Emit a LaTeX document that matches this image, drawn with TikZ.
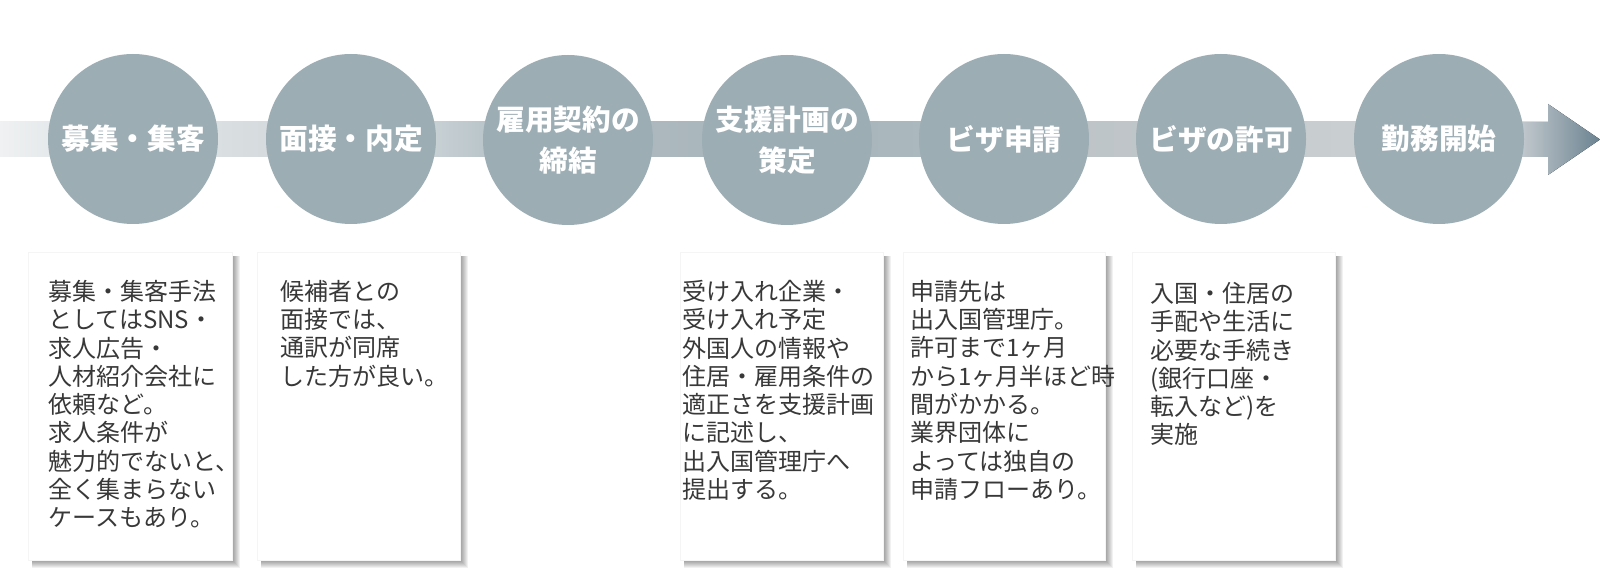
\documentclass[tikz,border=0pt]{standalone}
\usepackage{fontspec}
\newfontfamily\cjk{Noto Sans CJK JP}
\definecolor{circfill}{HTML}{9DADB4}
\definecolor{txtgray}{HTML}{383838}
\definecolor{arrowdark}{HTML}{6B8391}
\tikzset{
  stepcirc/.style={circle, fill=circfill, minimum size=127.5pt, inner sep=0pt,
    text=white, align=center, font=\cjk\bfseries\fontsize{21.5}{31}\selectfont},
  card/.style={fill=white, draw=black!4, line width=0.5pt, anchor=north west, inner sep=0pt},
  desc/.style={anchor=north west, inner sep=0pt, align=left, text=txtgray,
    font=\cjk\fontsize{18}{21.2}\selectfont},
  shadowpiece/.style={fill=black, opacity=0.055}
}
\begin{document}
\begin{tikzpicture}[x=0.75pt,y=-0.75pt]
\useasboundingbox (0,0) rectangle (1600,573);
\fill[white] (0,0) rectangle (1600,573);

% band segments (visible in the gaps between circles)
\fill[left color={rgb,255:red,239;green,241;blue,242}, right color={rgb,255:red,228;green,232;blue,234}] (0,122) rectangle (60,157);
\fill[left color={rgb,255:red,228;green,232;blue,234}, right color={rgb,255:red,220;green,225;blue,227}] (60,122) rectangle (140,157);
\fill[left color={rgb,255:red,219;green,224;blue,226}, right color={rgb,255:red,212;green,218;blue,221}] (205,122) rectangle (280,157);
\fill[left color={rgb,255:red,202;green,210;blue,213}, right color={rgb,255:red,183;green,195;blue,201}] (425,122) rectangle (495,157);
\fill[left color={rgb,255:red,173;green,185;blue,191}, right color={rgb,255:red,169;green,182;blue,188}] (640,122) rectangle (715,157);
\fill[left color={rgb,255:red,169;green,182;blue,188}, right color={rgb,255:red,171;green,184;blue,190}] (860,122) rectangle (930,157);
\fill[left color={rgb,255:red,189;green,196;blue,199}, right color={rgb,255:red,192;green,198;blue,201}] (1078,122) rectangle (1148,157);
\fill[left color={rgb,255:red,199;green,204;blue,207}, right color={rgb,255:red,202;green,207;blue,210}] (1295,122) rectangle (1366,157);
% arrow
\fill[left color={rgb,255:red,199;green,205;blue,209}, right color=arrowdark]
  (1516,122) -- (1548,122) -- (1548,104) -- (1600,139.5) -- (1548,175) -- (1548,157) -- (1516,157) -- cycle;

% circles
\node[stepcirc] (s1) at (133,139) {募集・集客};
\node[stepcirc] (s2) at (351,139) {面接・内定};
\node[stepcirc] (s3) at (568,140) {雇用契約の\\締結};
\node[stepcirc] (s4) at (787,140) {支援計画の\\策定};
\node[stepcirc] (s5) at (1004,139) {ビザ申請};
\node[stepcirc] (s6) at (1221,139) {ビザの許可};
\node[stepcirc] (s7) at (1439,139) {勤務開始};

% cards with shadows
\foreach \xa/\xb/\nm in {28/232/b1, 257/460/b2, 680/883/b4, 903/1105/b5, 1132/1335/b6} {
  \foreach \d in {1,...,8}
    \fill[shadowpiece] (\xa+4,256) rectangle (\xb+\d,560+\d);
  \node[card, minimum width={(\xb-\xa)*0.75pt}, minimum height={308*0.75pt}] (\nm) at (\xa,252) {};
}

% descriptions
\node[desc] (t1) at (48,280) {募集・集客手法\\としてはSNS・\\求人広告・\\人材紹介会社に\\依頼など。\\求人条件が\\魅力的でないと、\\全く集まらない\\ケースもあり。};
\node[desc] (t2) at (280,280) {候補者との\\面接では、\\通訳が同席\\した方が良い。};
\node[desc] (t4) at (682,280) {受け入れ企業・\\受け入れ予定\\外国人の情報や\\住居・雇用条件の\\適正さを支援計画\\に記述し、\\出入国管理庁へ\\提出する。};
\node[desc] (t5) at (910,280) {申請先は\\出入国管理庁。\\許可まで1ヶ月\\から1ヶ月半ほど時\\間がかかる。\\業界団体に\\よっては独自の\\申請フローあり。};
\node[desc] (t6) at (1150,282) {入国・住居の\\手配や生活に\\必要な手続き\\(銀行口座・\\転入など)を\\実施};
\end{tikzpicture}
\end{document}
